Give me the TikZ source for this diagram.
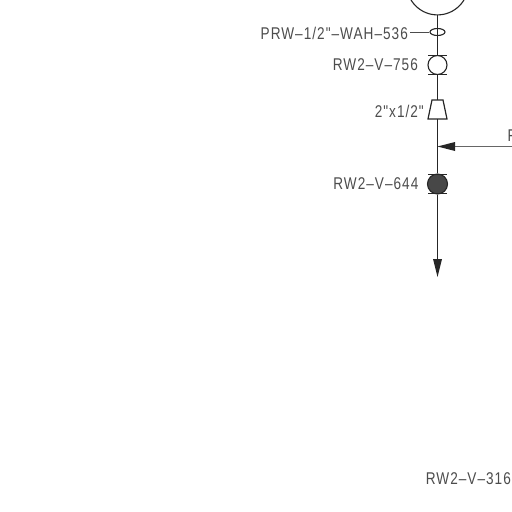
\documentclass[tikz,border=0pt]{standalone}
\usepackage{fontspec}
\newfontfamily\cadfont[LetterSpace=7.5]{Liberation Sans}
\usetikzlibrary{arrows.meta,shapes.geometric}
\definecolor{cadtext}{gray}{0.3}
\tikzset{
  x=1pt,y=-1pt,
  pipe/.style={line width=1.2pt,black!85},
  lab/.style={inner sep=0pt,text=cadtext,xscale=0.8,transform shape,font=\fontsize{17}{18}\selectfont\cadfont},
  valvebody/.style={circle,draw=black!85,line width=1.1pt,minimum size=19pt,inner sep=0pt},
  bar/.style={line width=0.8pt,black!85},
  tip/.style={fill=black!85,draw=none}
}
\begin{document}
\begin{tikzpicture}
\useasboundingbox (0,0) rectangle (512,512);
\begin{scope}
\clip (0,0) rectangle (512,512);
\node[circle,draw=black!85,line width=1.1pt,minimum size=61.8pt,inner sep=0pt] (tank) at (437.5,-16) {};
\node[lab,anchor=west] (clipF) at (507.5,135.5) {F};
\draw[line width=1pt,black!60] (512,146.5) coordinate (inR) -- (450,146.5);
\end{scope}
\node[ellipse,draw=black!85,line width=1.1pt,minimum width=15pt,minimum height=7pt,inner sep=0pt] (wah) at (437.5,32) {};
\node[valvebody] (v756) at (437.5,65) {};
\node[valvebody,fill=black!72,minimum size=20pt] (v644) at (437.5,184) {};
\coordinate (redT) at (437.5,100);
\coordinate (redB) at (437.5,119);
\coordinate (junc) at (437.5,146.5);
\coordinate (endA) at (437.5,262);
\draw[pipe] (tank.south) -- (wah.north);
\draw[pipe] (wah.north) -- (wah.south);
\draw[pipe] (wah.south) -- (v756.north);
\draw[pipe] (v756.south) -- (redT);
\draw[pipe] (redB) -- (v644.north);
\draw[pipe] (v644.south) -- (endA);
\draw[pipe] (432,100) -- (443,100) -- (447,119) -- (428,119) -- cycle;
\foreach \n/\yy in {a/55,b/74,c/174,d/193}{
  \draw[bar] (428,\yy) -- (447,\yy);
}
\fill[tip] (junc) -- (455,142) -- (455,151) -- cycle;
\fill[tip] (437.5,277) -- (433,259) -- (442,259) -- cycle;
\node[lab,anchor=east] (l1) at (408,33) {PRW–1/2"–WAH–536};
\draw[line width=1pt,black!70] (l1.east) ++(2,-1) coordinate (ls) -- (wah.west);
\node[lab,anchor=east] (l2) at (418,65) {RW2–V–756};
\node[lab,anchor=east] (l3) at (424,111) {2"x1/2"};
\node[lab,anchor=east] (l4) at (418.5,184) {RW2–V–644};
\node[lab,anchor=east] (l5) at (511,479) {RW2–V–316};
\end{tikzpicture}
\end{document}
